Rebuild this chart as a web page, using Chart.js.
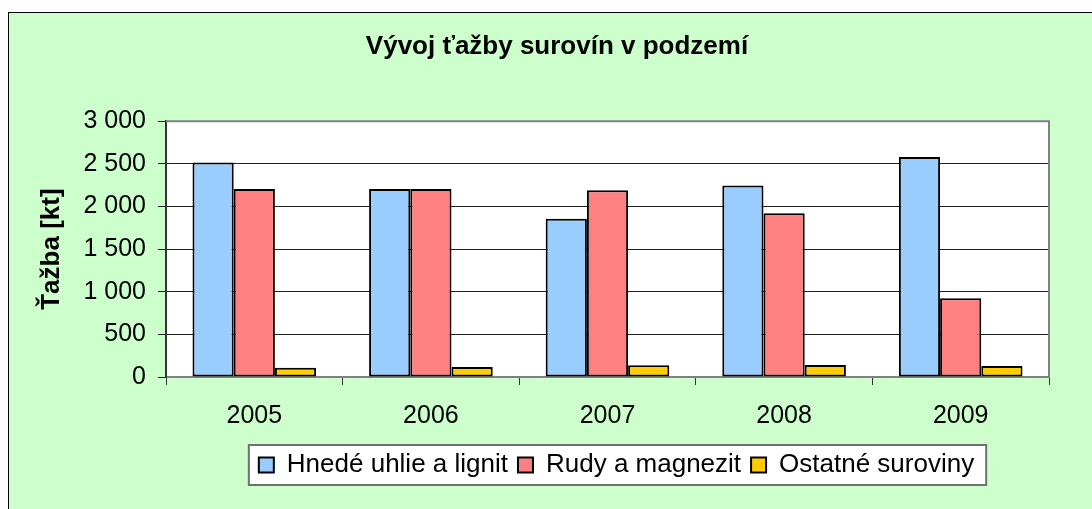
<!DOCTYPE html>
<html>
<head>
<meta charset="utf-8">
<script src="https://cdn.jsdelivr.net/npm/chart.js@4"></script>
<style>
    html, body { margin: 0; padding: 0; background: #ffffff; }
    #wrap {
        position: absolute; left: 8px; top: 12px;
        width: 1084px; height: 497px;
        border-left: 1px solid #000; border-top: 1px solid #000;
        background: #ccffcc;
    }
    canvas { display: block; }
</style>
</head>
<body>
<div id="wrap"><canvas id="tazbaChart" width="1084" height="497"></canvas></div>
<script>
const years = ['2005', '2006', '2007', '2008', '2009'];
const hnedeUhlie = [2515, 2205, 1855, 2245, 2580];
const rudy = [2205, 2205, 2190, 1920, 925];
const ostatne = [108, 117, 137, 140, 128];
const seriesNames = ['Hnedé uhlie a lignit', 'Rudy a magnezit', 'Ostatné suroviny'];
const yTicks = [0, 500, 1000, 1500, 2000, 2500, 3000];

const fontFam = '"Liberation Sans", Arial, sans-serif';

// spaces as thousands separator, like the original
const fmt = (v) => String(v).replace(/\B(?=(\d{3})+(?!\d))/g, ' ');

const frame = {
    id: 'frame',
    afterLayout(chart) {
        // title and legend are not centred on the plot in the original
        chart.titleBlock.left = 28;
        chart.titleBlock.right = 1068;
        chart.legend.left = 131;
        chart.legend.right = 1084;
    },
    beforeDraw(chart) {
        const ctx = chart.ctx;
        const a = chart.chartArea;
        ctx.save();
        ctx.fillStyle = '#ffffff';
        ctx.fillRect(a.left, a.top, a.right - a.left, a.bottom - a.top);

        // box round the legend
        const hb = chart.legend.legendHitBoxes;
        if (hb && hb.length) {
            const l = Math.min(...hb.map(h => h.left)) - 10;
            const r = Math.max(...hb.map(h => h.left + h.width)) + 12;
            const cy = hb[0].top + hb[0].height / 2;
            ctx.fillStyle = '#ffffff';
            ctx.fillRect(l, cy - 20, r - l, 40);
            ctx.strokeStyle = '#707070';
            ctx.lineWidth = 2;
            ctx.strokeRect(l, cy - 20, r - l, 40);
        }
        ctx.restore();
    },
    afterDatasetsDraw(chart) {
        const ctx = chart.ctx;
        const a = chart.chartArea;
        ctx.save();
        ctx.strokeStyle = '#808080';
        ctx.lineWidth = 2;
        ctx.beginPath();
        ctx.moveTo(a.left, a.top);
        ctx.lineTo(a.right, a.top);
        ctx.lineTo(a.right, a.bottom);
        ctx.stroke();
        ctx.restore();
    }
};

const data = {
    labels: years,
    datasets: [
        { label: seriesNames[0], data: hnedeUhlie, backgroundColor: '#99ccff' },
        { label: seriesNames[1], data: rudy, backgroundColor: '#ff8080' },
        { label: seriesNames[2], data: ostatne, backgroundColor: '#ffcc00' }
    ].map(d => Object.assign(d, {
        borderColor: '#000000',
        borderWidth: 2,
        borderSkipped: false,
        categoryPercentage: 0.7,
        barPercentage: 1.0
    }))
};

const options = {
    responsive: false,
    animation: false,
    devicePixelRatio: 1,
    layout: { padding: { left: 0, right: 44, top: 0, bottom: 22 } },
    scales: {
        x: {
            grid: { offset: true, drawOnChartArea: false, drawTicks: true, tickLength: 8, color: '#333333', lineWidth: 1 },
            border: { color: '#808080', width: 2 },
            ticks: { color: '#000', padding: 16, font: { family: fontFam, size: 25 } },
            afterFit: (scale) => { scale.height = 65; }
        },
        y: {
            min: 0,
            max: 3000,
            afterBuildTicks: (scale) => { scale.ticks = yTicks.map(v => ({ value: v })); },
            grid: { color: '#222222', lineWidth: 1, tickLength: 8 },
            border: { color: '#333333', width: 2 },
            ticks: { color: '#000', padding: 12, font: { family: fontFam, size: 25 }, callback: (v) => fmt(v) },
            title: {
                display: true,
                text: 'Ťažba [kt]',
                color: '#000',
                font: { family: fontFam, size: 26, weight: 'bold' },
                padding: { top: 27, bottom: 0 }
            },
            afterFit: (scale) => { scale.width = 157; }
        }
    },
    plugins: {
        title: {
            display: true,
            text: 'Vývoj ťažby surovín v podzemí',
            color: '#000',
            font: { family: fontFam, size: 26, weight: 'bold' },
            padding: { top: 18, bottom: 59 }
        },
        legend: {
            display: true,
            position: 'bottom',
            labels: {
                color: '#000',
                boxWidth: 15,
                boxHeight: 15,
                padding: 10,
                font: { family: fontFam, size: 26 }
            }
        },
        tooltip: { enabled: false }
    }
};

const tazbaChart = new Chart(document.getElementById('tazbaChart'), {
    type: 'bar',
    data: data,
    options: options,
    plugins: [frame]
});
</script>
</body>
</html>
